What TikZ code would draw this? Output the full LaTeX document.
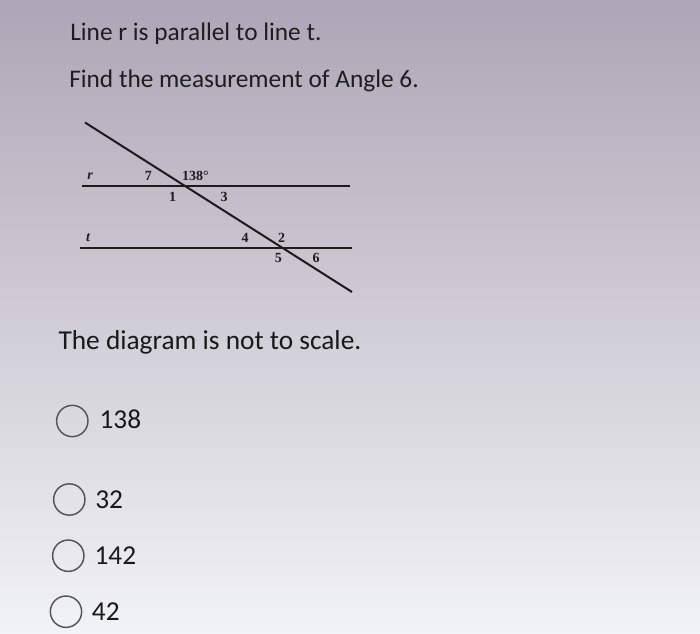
\documentclass[tikz,border=0pt]{standalone}
\usepackage{fontspec}
\setmainfont{Carlito}
\newfontfamily\diagfont{Liberation Serif}
\begin{document}
\begin{tikzpicture}[x=0.75pt,y=-0.75pt,
  qtext/.style={anchor=base west,inner sep=0pt,font=\fontsize{19}{22}\selectfont,text={rgb,255:red,30;green,30;blue,32}},
  bigtext/.style={anchor=base west,inner sep=0pt,font=\fontsize{20.5}{24}\selectfont,text={rgb,255:red,25;green,25;blue,28}},
  lbl/.style={inner sep=0pt,font=\diagfont\bfseries\fontsize{10.5}{12}\selectfont,text={rgb,255:red,30;green,30;blue,30}},
  geoline/.style={line width=1.5pt,draw={rgb,255:red,28;green,28;blue,28}},
  radio/.style={circle,minimum size=23.5pt,inner sep=0pt,line width=1.1pt,draw={rgb,255:red,85;green,85;blue,88}}]
\useasboundingbox (0,0) rectangle (700,634);
\shade[top color={rgb,255:red,172;green,166;blue,182},middle color={rgb,255:red,216;green,215;blue,220},bottom color={rgb,255:red,242;green,243;blue,245}] (0,0) rectangle (700,634);
% question text
\node[qtext] (q1) at (70,40.7) {Line r is parallel to line t.};
\node[qtext] (q2) at (69,87.3) {Find the measurement of Angle 6.};
% diagram
\coordinate (rL) at (82,186.5);
\coordinate (rR) at (350,186.5);
\coordinate (tL) at (80,248.5);
\coordinate (tR) at (352,248.5);
\coordinate (sA) at (85,122.5);
\coordinate (sB) at (352,292);
\draw[geoline] (rL) -- (rR);
\draw[geoline] (tL) -- (tR);
\draw[geoline] (sA) -- (sB);
\node[lbl,font=\diagfont\bfseries\itshape\fontsize{10.5}{12}\selectfont] (lr) at (90,176.5) {r};
\node[lbl,font=\diagfont\bfseries\itshape\fontsize{10.5}{12}\selectfont] (lt) at (88,238) {t};
\node[lbl] (a7) at (148.3,175.5) {7};
\node[lbl] (a138) at (195.5,175.5) {138°};
\node[lbl] (a1) at (172.7,196.5) {1};
\node[lbl] (a3) at (224,196.5) {3};
\node[lbl] (a4) at (245,237.7) {4};
\node[lbl] (a2) at (281.7,237.7) {2};
\node[lbl] (a5) at (278.3,258) {5};
\node[lbl] (a6) at (316,258) {6};
% note
\node[bigtext] (note) at (58.3,349.3) {The diagram is not to scale.};
% options
\node[radio] (c1) at (72.3,421) {};
\node[bigtext] (o1) at (99.3,429) {138};
\node[radio] (c2) at (69.3,499.5) {};
\node[bigtext] (o2) at (95,508.3) {32};
\node[radio] (c3) at (68.3,555.7) {};
\node[bigtext] (o3) at (94.3,564) {142};
\node[radio] (c4) at (66,611.7) {};
\node[bigtext] (o4) at (91.7,620) {42};
\end{tikzpicture}
\end{document}
